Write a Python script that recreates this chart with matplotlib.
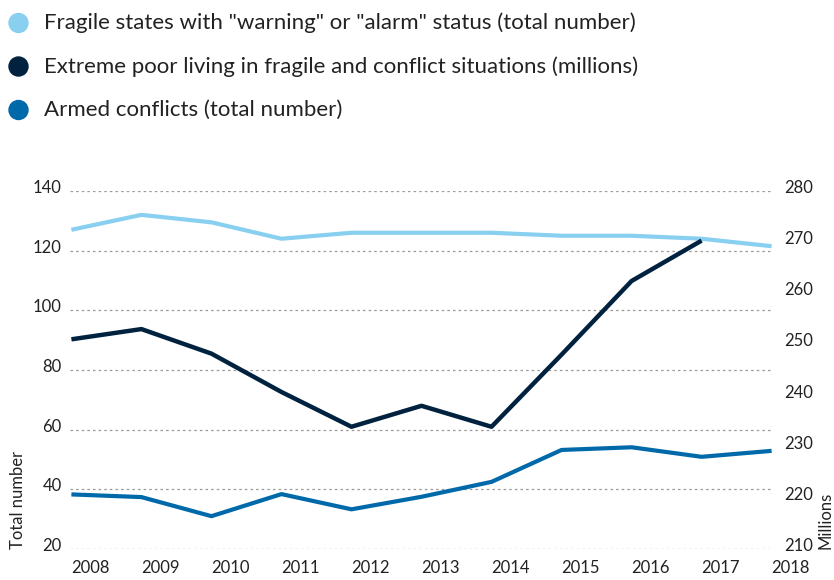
import matplotlib
matplotlib.use("Agg")
import matplotlib.pyplot as plt
import matplotlib.transforms as mtransforms

plt.rcParams['font.family'] = ['Lato', 'DejaVu Sans']

years = ['2008', '2009', '2010', '2011', '2012', '2013', '2014', '2015', '2016', '2017', '2018']
fragile_states = [127, 132, 129.5, 124, 126, 126, 126, 125, 125, 124, 121.5]
armed_conflicts = [38.3, 37.4, 31, 38.4, 33.3, 37.5, 42.5, 53.2, 54.1, 50.9, 52.9]
extreme_poor = [251, 253, 248.2, 240.7, 233.9, 238, 233.9, 248, 262.4, 270.3]  # millions, up to 2017

labels = ['Fragile states with "warning" or "alarm" status (total number)',
          'Extreme poor living in fragile and conflict situations (millions)',
          'Armed conflicts (total number)']
c_light = '#89CFF0'
c_dark = '#00223F'
c_mid = '#0069AA'
colors = [c_light, c_dark, c_mid]

W, H = 834, 580
fig = plt.figure(figsize=(W / 100, H / 100), dpi=100)
ax = fig.add_axes([70 / W, 31 / H, 703 / W, 358 / H])
ax2 = ax.twinx()

x = list(range(len(years)))
ax.plot(x, fragile_states, color=c_light, lw=3, solid_capstyle='butt', clip_on=False, zorder=3)
ax.plot(x, armed_conflicts, color=c_mid, lw=3, solid_capstyle='butt', clip_on=False, zorder=3)
ax2.plot(x[:len(extreme_poor)], extreme_poor, color=c_dark, lw=3.2, solid_capstyle='butt',
         clip_on=False, zorder=3)

ax.set_xlim(-0.02, 10.02)
ax.set_ylim(20, 140)
ax2.set_ylim(210, 280)
ax.set_yticks(range(20, 141, 20))
ax2.set_yticks(range(210, 281, 10))

ax.grid(axis='y', color='#999999', linestyle=(0, (2, 2.5)), lw=0.9)
ax.grid(axis='x', visible=False)
for a in (ax, ax2):
    for s in a.spines.values():
        s.set_visible(False)
    a.tick_params(length=0, labelsize=12, colors='#222222')

ax.set_xticks(x)
ax.set_xticklabels(years)
for lab in ax.get_xticklabels():
    lab.set_horizontalalignment('left')
ax.tick_params(axis='x', pad=8)
ax.tick_params(axis='y', pad=6)
ax2.tick_params(axis='y', pad=8)

up = mtransforms.ScaledTranslation(0, 4.5 / 100, fig.dpi_scale_trans)
for lab in ax.get_yticklabels() + ax2.get_yticklabels():
    lab.set_transform(lab.get_transform() + up)

ax.set_ylabel('Total number', fontsize=12, color='#222222')
ax.yaxis.set_label_coords(-52 / 703, 0, transform=ax.transAxes)
ax.yaxis.label.set_va('center')
ax.yaxis.label.set_ha('left')
ax2.set_ylabel('Millions', fontsize=12, color='#222222', rotation=90)
ax2.yaxis.set_label_coords(1 + 52 / 703, 0, transform=ax2.transAxes)
ax2.yaxis.label.set_va('center')
ax2.yaxis.label.set_ha('left')

# legend
for i, (lab, col) in enumerate(zip(labels, colors)):
    yy = 1 - (23 + 43.5 * i) / H
    fig.patches.append(matplotlib.patches.Ellipse((18.5 / W, yy), 19 / W, 19 / H,
                                                  transform=fig.transFigure, color=col))
    fig.text(44 / W, yy, lab, fontsize=16, color='#222222', va='center', ha='left')

fig.savefig('out.png', dpi=100)
